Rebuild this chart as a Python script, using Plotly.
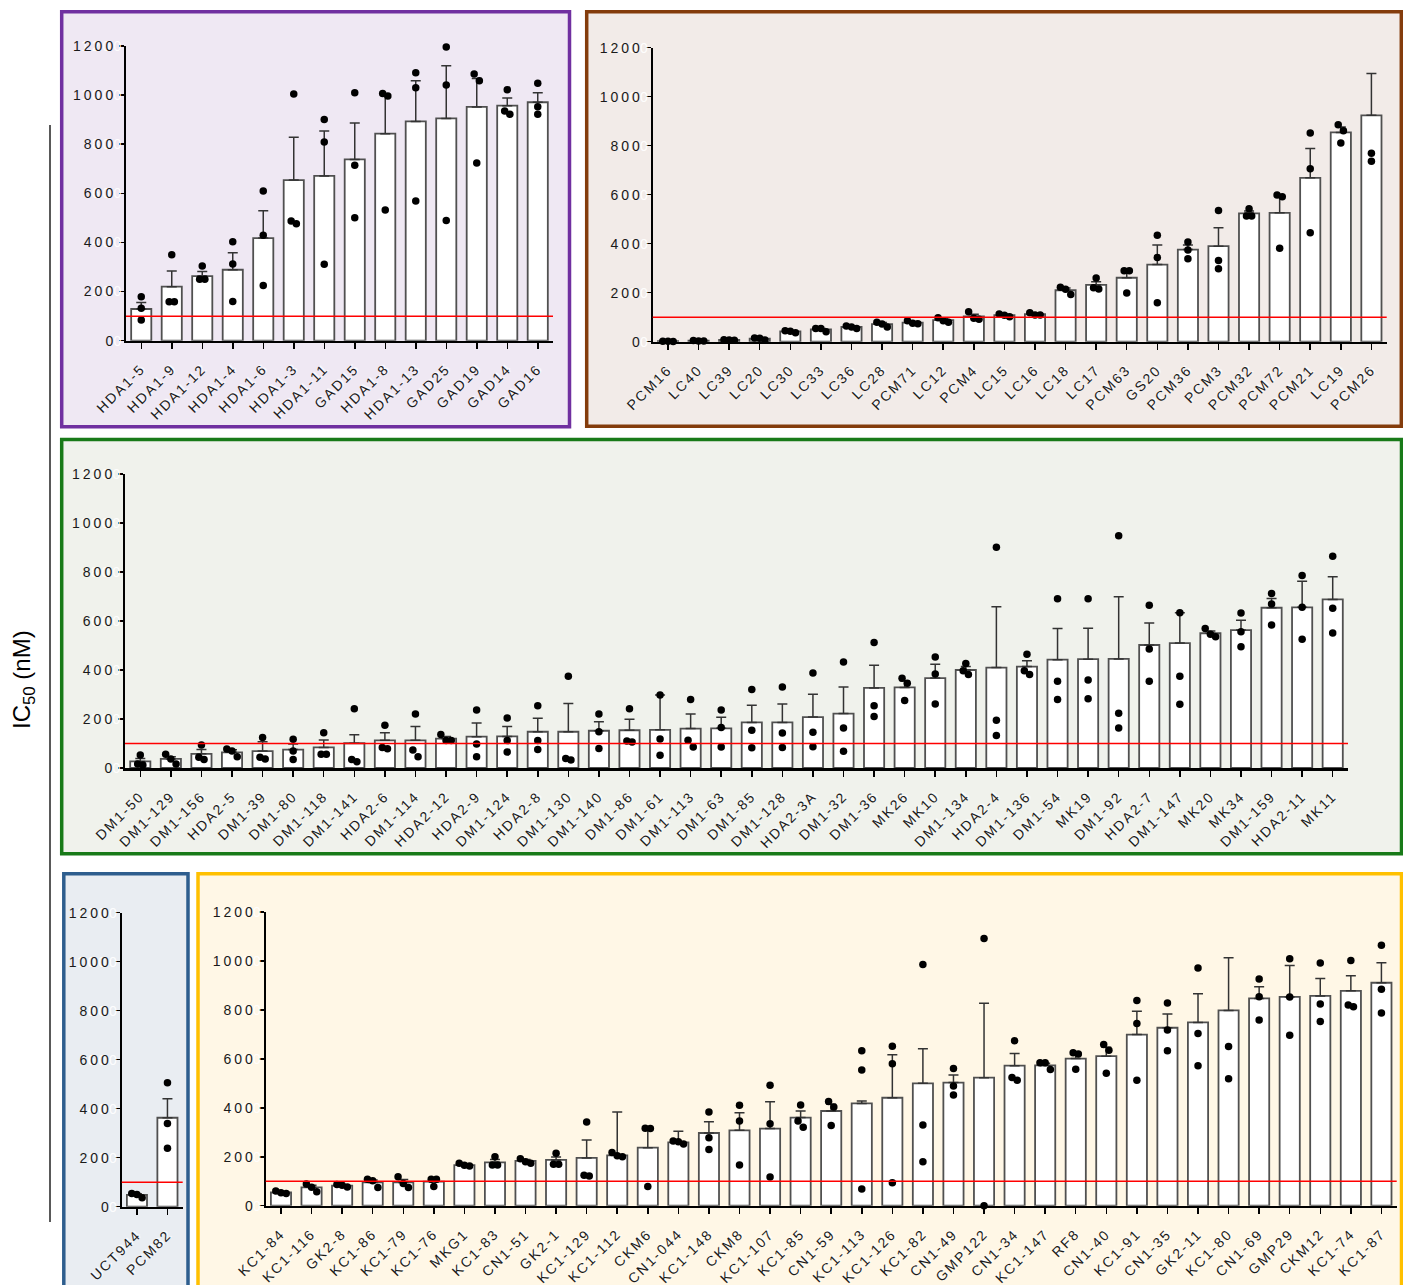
import plotly.graph_objects as go

W, H = 1403, 1285

# ---------------- IC50 data (nM): mean, SEM and replicate values ----------------
p1_names = ["HDA1-5", "HDA1-9", "HDA1-12", "HDA1-4", "HDA1-6", "HDA1-3", "HDA1-11",
            "GAD15", "HDA1-8", "HDA1-13", "GAD25", "GAD19", "GAD14", "GAD16"]
p1_mean = [129, 220, 263, 289, 418, 654, 671, 738, 843, 893, 905, 952, 957, 971]
p1_sem = [27, 64, 19, 69, 111, 174, 183, 148, 157, 166, 215, 116, 31, 39]
p1_reps = [[179, 132, 84], [350, 159, 159], [304, 250, 250], [403, 312, 160],
           [610, 429, 225], [1005, 487, 476], [901, 809, 311], [1010, 714, 501],
           [1007, 996, 532], [1091, 1030, 569], [1196, 1041, 489], [1086, 1059, 724],
           [1022, 922, 935], [1048, 922, 953]]

p2_names = ["PCM16", "LC40", "LC39", "LC20", "LC30", "LC33", "LC36", "LC28", "PCM71",
            "LC12", "PCM4", "LC15", "LC16", "LC18", "LC17", "PCM63", "GS20", "PCM36",
            "PCM3", "PCM32", "PCM72", "PCM21", "LC19", "PCM26"]
p2_mean = [2, 4, 7, 12, 42, 50, 60, 72, 78, 88, 103, 108, 112, 210, 232, 261, 315,
           376, 390, 524, 526, 669, 854, 924]
p2_sem = [0.5, 1, 1, 3, 3, 4, 3, 6, 4, 6, 9, 4, 3, 9, 13, 30, 80, 19, 75, 9, 72,
          120, 22, 171]
p2_reps = [[2, 1, 2], [5, 3, 3], [8, 6, 7], [15, 7, 14], [45, 37, 43], [54, 41, 54],
           [64, 54, 60], [79, 60, 72], [86, 73, 75], [98, 79, 86], [122, 92, 96],
           [113, 102, 108], [118, 109, 109], [222, 193, 214], [260, 215, 220],
           [290, 290, 199], [434, 344, 159], [407, 374, 339], [536, 331, 298],
           [543, 513, 513], [599, 592, 381], [852, 706, 445], [886, 861, 811],
           [737, 769]]

p3_names = ["DM1-50", "DM1-129", "DM1-156", "HDA2-5", "DM1-39", "DM1-80", "DM1-118",
            "DM1-141", "HDA2-6", "DM1-114", "HDA2-12", "HDA2-9", "DM1-124", "HDA2-8",
            "DM1-130", "DM1-140", "DM1-86", "DM1-61", "DM1-113", "DM1-63", "DM1-85",
            "DM1-128", "HDA2-3A", "DM1-32", "DM1-36", "MK26", "MK10", "DM1-134",
            "HDA2-4", "DM1-136", "DM1-54", "MK19", "DM1-92", "HDA2-7", "DM1-147",
            "MK20", "MK34", "DM1-159", "HDA2-11", "MK11"]
p3_mean = [27, 37, 58, 64, 69, 75, 84, 101, 113, 113, 120, 128, 129, 148, 148, 152,
           154, 156, 161, 162, 186, 186, 208, 222, 327, 329, 367, 400, 410, 414, 442,
           444, 445, 502, 510, 550, 563, 654, 656, 688]
p3_sem = [12, 9, 18, 10, 38, 23, 30, 35, 31, 56, 9, 56, 40, 55, 115, 37, 45, 142, 59,
          45, 70, 75, 93, 109, 92, 27, 56, 14, 248, 24, 127, 126, 254, 90, 124, 9, 40,
          38, 106, 93]
p3_reps = [[53, 12, 16], [56, 37, 16], [94, 35, 44], [78, 69, 46], [124, 37, 44],
           [117, 69, 35], [144, 56, 56], [242, 26, 35], [174, 79, 84], [220, 73, 46],
           [137, 112, 112], [237, 98, 46], [204, 112, 65], [254, 112, 76],
           [374, 33, 39], [220, 148, 80], [242, 106, 110], [298, 118, 52],
           [280, 113, 86], [237, 165, 86], [320, 154, 83], [331, 143, 84],
           [388, 146, 87], [433, 163, 68], [512, 254, 210], [366, 346, 276],
           [453, 384, 261], [427, 397, 382], [901, 195, 133], [464, 382, 397],
           [691, 354, 280], [691, 359, 283], [948, 223, 163], [664, 486, 354],
           [634, 374, 260], [569, 536, 546], [633, 556, 495], [712, 669, 584],
           [786, 656, 525], [864, 652, 551]]

p4_names = ["UCT944", "PCM82"]
p4_mean = [48, 363]
p4_sem = [5, 78]
p4_reps = [[54, 37, 50], [506, 340, 239]]

p5_names = ["KC1-84", "KC1-116", "GK2-8", "KC1-86", "KC1-79", "KC1-76", "MKG1",
            "KC1-83", "CN1-51", "GK2-1", "KC1-129", "KC1-112", "CKM6", "CN1-044",
            "KC1-148", "CKM8", "KC1-107", "KC1-85", "CN1-59", "KC1-113", "KC1-126",
            "KC1-82", "CN1-49", "GMP122", "CN1-34", "KC1-147", "RF8", "CN1-40",
            "KC1-91", "CN1-35", "GK2-11", "KC1-80", "CN1-69", "GMP29", "CKM12",
            "KC1-74", "KC1-87"]
p5_mean = [54, 75, 82, 95, 95, 98, 166, 177, 183, 187, 195, 206, 237, 259, 297, 308,
           315, 360, 387, 418, 441, 500, 503, 523, 572, 573, 601, 611, 699, 727, 749,
           798, 847, 853, 857, 878, 911]
p5_sem = [3, 9, 3, 10, 12, 10, 3, 12, 6, 12, 73, 177, 78, 45, 46, 72, 110, 27, 28,
          10, 176, 141, 31, 304, 50, 9, 21, 36, 95, 56, 117, 215, 48, 128, 71, 62, 82]
p5_reps = [[60, 50, 53], [89, 57, 75], [87, 76, 84], [108, 74, 102], [118, 91, 74],
           [108, 78, 108], [173, 162, 165], [200, 166, 166], [192, 173, 180],
           [214, 169, 169], [342, 121, 124], [217, 200, 204], [316, 315, 78],
           [264, 252, 261], [383, 278, 230], [410, 346, 166], [492, 335, 117],
           [411, 346, 321], [426, 403, 328], [633, 554, 68], [651, 580, 94],
           [986, 330, 180], [561, 489, 452], [1092, 0], [674, 513, 524],
           [584, 584, 556], [625, 620, 558], [659, 635, 541], [838, 744, 513],
           [828, 718, 633], [971, 704, 572], [650, 519], [926, 854, 759],
           [1009, 853, 696], [992, 824, 753], [1002, 813, 820], [1064, 884, 787]]

threshold_nM = 100
y_ticks = [0, 200, 400, 600, 800, 1000, 1200]

FONT = "Arial, Liberation Sans, sans-serif"


def px_x(v):
    return v / W


def px_y(v):
    return 1 - v / H


def spread(values, gap=30, step=0.17):
    """Horizontal offsets so that replicate dots with close values sit side by side."""
    order = sorted(range(len(values)), key=lambda i: -values[i])
    groups, cur = [], [order[0]]
    for i in order[1:]:
        if abs(values[cur[-1]] - values[i]) < gap:
            cur.append(i)
        else:
            groups.append(cur)
            cur = [i]
    groups.append(cur)
    offs = [0.0] * len(values)
    for g in groups:
        k = len(g)
        for j, i in enumerate(g):
            offs[i] = (j - (k - 1) / 2) * step
    return offs


# plot-area rectangles (left, right, top, bottom in pixels) and panel frames
panels = [
    dict(names=p1_names, mean=p1_mean, sem=p1_sem, reps=p1_reps,
         area=(126, 553, 46, 340.7),
         frame=(61.7, 569.5, 11.7, 426.7), edge="#7030A0", fill="#EFE8F3"),
    dict(names=p2_names, mean=p2_mean, sem=p2_sem, reps=p2_reps,
         area=(652.7, 1386.7, 47.7, 341.7),
         frame=(586.7, 1401.3, 11.7, 426.3), edge="#843C0C", fill="#F2EBE8"),
    dict(names=p3_names, mean=p3_mean, sem=p3_sem, reps=p3_reps,
         area=(125, 1348, 474, 768),
         frame=(61.7, 1401.5, 439.5, 853.7), edge="#187A18", fill="#F0F2EC"),
    dict(names=p4_names, mean=p4_mean, sem=p4_sem, reps=p4_reps,
         area=(121.7, 182.7, 912.7, 1206.7),
         frame=(63.8, 188, 873.8, 1292), edge="#2E5E8E", fill="#E9EDF2"),
    dict(names=p5_names, mean=p5_mean, sem=p5_sem, reps=p5_reps,
         area=(265.7, 1396.7, 912, 1205.7),
         frame=(198, 1401.5, 873.8, 1292), edge="#FFC000", fill="#FFF7E6"),
]

fig = go.Figure()
shapes = []
layout_axes = {}
x_ids, y_ids = [], []

for k, p in enumerate(panels, start=1):
    sfx = "" if k == 1 else str(k)
    xa, ya = "x" + sfx, "y" + sfx
    x_ids.append(xa)
    y_ids.append(ya)
    n = len(p["names"])
    pos = list(range(n))

    fl, fr, ft, fb = p["frame"]
    shapes.append(dict(type="rect", xref="paper", yref="paper",
                       x0=px_x(fl), x1=px_x(fr), y0=px_y(fb), y1=px_y(ft),
                       fillcolor=p["fill"], line=dict(color=p["edge"], width=3.5),
                       layer="below"))

    fig.add_trace(go.Bar(
        x=pos, y=p["mean"], width=0.66, xaxis=xa, yaxis=ya,
        marker=dict(color="white", line=dict(color="#505050", width=1.8)),
        error_y=dict(type="data", symmetric=False, array=p["sem"],
                     arrayminus=[0] * n, color="#333333", thickness=1.5, width=5),
        showlegend=False, hoverinfo="skip"))

    dx, dy = [], []
    for i, vals in enumerate(p["reps"]):
        offs = spread(vals)
        for v, o in zip(vals, offs):
            dx.append(i + o)
            dy.append(v)
    fig.add_trace(go.Scatter(
        x=dx, y=dy, mode="markers", xaxis=xa, yaxis=ya, cliponaxis=False,
        marker=dict(color="black", size=7.5), showlegend=False, hoverinfo="skip"))

    shapes.append(dict(type="line", xref=xa + " domain", yref=ya, x0=0, x1=1,
                       y0=threshold_nM, y1=threshold_nM,
                       line=dict(color="#FF0000", width=1.5), layer="above"))

    al, ar, at, ab = p["area"]
    layout_axes["xaxis" + sfx] = dict(
        domain=[px_x(al), px_x(ar)], anchor=ya, range=[-0.5, n - 0.5],
        automargin=False,
        tickmode="array", tickvals=pos, ticktext=p["names"], tickangle=-45,
        ticks="outside", ticklen=6, tickwidth=1.5, tickcolor="black",
        ticklabelstandoff=6,
        showline=True, linewidth=2.5, linecolor="black",
        showgrid=False, zeroline=False, fixedrange=True,
        tickfont=dict(family=FONT, size=14, color="#1a1a1a"))
    layout_axes["yaxis" + sfx] = dict(
        domain=[px_y(ab), px_y(at)], anchor=xa, range=[0, 1200],
        automargin=False,
        tickmode="array", tickvals=y_ticks, ticktext=[str(t) for t in y_ticks],
        ticks="outside", ticklen=5, tickwidth=1.5, tickcolor="black",
        showline=True, linewidth=2, linecolor="black",
        showgrid=False, zeroline=False, fixedrange=True,
        tickfont=dict(family=FONT, size=14, color="#1a1a1a"))

# shared y-axis bracket line at the left edge
shapes.append(dict(type="line", xref="paper", yref="paper",
                   x0=px_x(50), x1=px_x(50), y0=px_y(1222), y1=px_y(125),
                   line=dict(color="#222222", width=1.5)))

fig.update_layout(
    width=W, height=H, autosize=False,
    margin=dict(l=0, r=0, t=0, b=0, pad=0, autoexpand=False),
    paper_bgcolor="white", plot_bgcolor="rgba(0,0,0,0)",
    shapes=shapes, bargap=0.34,
    annotations=[dict(text="IC<sub>50</sub> (nM)", xref="paper", yref="paper",
                      x=px_x(23), y=px_y(680), textangle=-90, showarrow=False,
                      xanchor="center", yanchor="middle",
                      font=dict(family=FONT, size=24, color="black"))],
    **layout_axes,
)

fig.write_html("out.html", config={"displayModeBar": False, "staticPlot": True})

# wide tracking for the tick labels, with the faint white ghost behind them
x_sel = ", ".join("g.%stick > text" % a for a in x_ids)
y_sel = ", ".join("g.%stick > text" % a for a in y_ids)
css = (
    "<style>"
    + x_sel + " { letter-spacing: 2px; text-shadow: 2px 0px 1px rgba(255,255,255,0.9); }"
    + y_sel + " { letter-spacing: 3px; text-shadow: 8px 0px 0px rgba(255,255,255,0.95); }"
    + "</style>"
)
with open("out.html", encoding="utf-8") as fh:
    page = fh.read()
page = page.replace("<head>", "<head>" + css, 1)
with open("out.html", "w", encoding="utf-8") as fh:
    fh.write(page)
